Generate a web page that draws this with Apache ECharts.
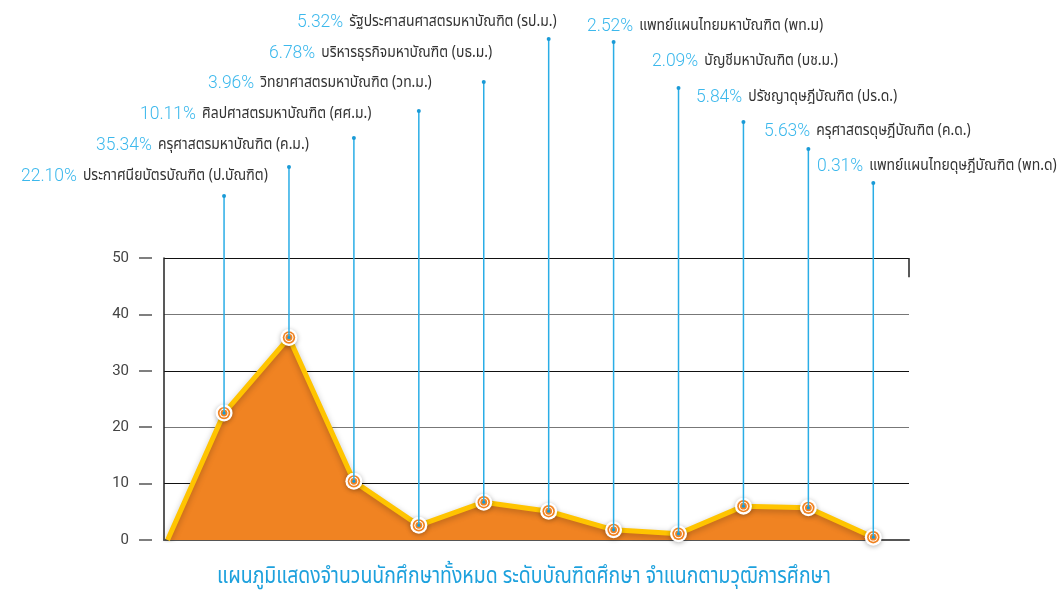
<!DOCTYPE html>
<html>
<head>
<meta charset="utf-8">
<script src="https://cdn.jsdelivr.net/npm/echarts@6/dist/echarts.min.js"></script>
<style>
  html, body { margin: 0; padding: 0; background: #fff; }
  #chart { width: 1062px; height: 590px; }
</style>
</head>
<body>
<div id="chart"></div>
<script>
// data
const categories = ['ป.บัณฑิต', 'ค.ม.', 'ศศ.ม.', 'วท.ม.', 'บธ.ม.', 'รป.ม.', 'พท.ม', 'บช.ม.', 'ปร.ด.', 'ค.ด.', 'พท.ด'];
const percentLabels = ['22.10%', '35.34%', '10.11%', '3.96%', '6.78%', '5.32%', '2.52%', '2.09%', '5.84%', '5.63%', '0.31%'];
const degreeNames = [
    'ประกาศนียบัตรบัณฑิต (ป.บัณฑิต)',
    'ครุศาสตรมหาบัณฑิต (ค.ม.)',
    'ศิลปศาสตรมหาบัณฑิต (ศศ.ม.)',
    'วิทยาศาสตรมหาบัณฑิต (วท.ม.)',
    'บริหารธุรกิจมหาบัณฑิต (บธ.ม.)',
    'รัฐประศาสนศาสตรมหาบัณฑิต (รป.ม.)',
    'แพทย์แผนไทยมหาบัณฑิต (พท.ม)',
    'บัญชีมหาบัณฑิต (บช.ม.)',
    'ปรัชญาดุษฎีบัณฑิต (ปร.ด.)',
    'ครุศาสตรดุษฎีบัณฑิต (ค.ด.)',
    'แพทย์แผนไทยดุษฎีบัณฑิต (พท.ด)'
];
const plotted = [22.5, 35.9, 10.4, 2.6, 6.7, 5.1, 1.8, 1.1, 6.0, 5.7, 0.5];
const yTicks = [0, 10, 20, 30, 40, 50];
const titleText = 'แผนภูมิแสดงจำนวนนักศึกษาทั้งหมด ระดับบัณฑิตศึกษา จำแนกตามวุฒิการศึกษา';

// label layout (pixels): top of leader line, label left x, label middle y
const leaderTop = [196, 167, 138, 111, 82, 39, 42, 88, 122, 149, 183];
const labelPos = [[21, 177], [96, 146], [140, 115], [208, 84], [269, 54], [297, 23],
                  [587, 27], [652, 62], [696, 98], [764, 132], [817, 167]];

const fontTh = "'Noto Sans Thai', 'Noto Sans', 'DejaVu Sans', sans-serif";
const pctFont = "300 17.5px Roboto, sans-serif";
const nameFont = "16px " + fontTh;

// width of the percentage part, so the name can follow it
const measureCtx = document.createElement('canvas').getContext('2d');
measureCtx.font = pctFont;
const pctWidth = percentLabels.map(t => measureCtx.measureText(t).width);

const areaData = [[0.13, 0]].concat(plotted.map((v, i) => [i + 1, v]));
const pointData = plotted.map((v, i) => [i + 1, v]);

const myChart = echarts.init(document.getElementById('chart'));
myChart.setOption({
    animation: false,
    graphic: [{
        type: 'text',
        x: 524,
        y: 578,
        scaleX: 0.845,
        style: {
            text: titleText,
            fill: '#1da1dd',
            font: "23px " + fontTh,
            textAlign: 'center',
            verticalAlign: 'middle'
        }
    }],
    grid: { left: 164, top: 258, width: 745, height: 282 },
    xAxis: {
        type: 'value',
        min: 0.075,
        max: 11.55,
        axisLine: { show: true, lineStyle: { color: '#555', width: 2 } },
        axisTick: { show: false },
        axisLabel: { show: false },
        splitLine: { show: false }
    },
    yAxis: [
        {
            type: 'value',
            min: yTicks[0],
            max: yTicks[yTicks.length - 1],
            interval: 10,
            offset: 12,
            axisLine: { show: false },
            axisTick: { show: true, length: 13, lineStyle: { color: '#555', width: 1.5 } },
            axisLabel: { margin: 23, color: '#444', fontSize: 15, fontFamily: 'Roboto, sans-serif' },
            splitLine: { show: true, lineStyle: { color: ['#555', '#111', '#777', '#111', '#777', '#111'], width: 1.2 } }
        },
        {
            type: 'value',
            min: 0,
            max: 50,
            interval: 10,
            position: 'left',
            axisLine: { show: true, lineStyle: { color: '#222', width: 1.5 } },
            axisTick: { show: false },
            axisLabel: { show: false },
            splitLine: { show: false }
        }
    ],
    series: [
        {
            type: 'line',
            data: areaData,
            symbol: 'none',
            z: 2,
            lineStyle: { color: '#ffc400', width: 5, shadowBlur: 6, shadowColor: 'rgba(0,0,0,0.25)', shadowOffsetY: 2 },
            areaStyle: { color: '#f08322', opacity: 1 },
            markLine: {
                silent: true,
                symbol: 'none',
                label: { show: false },
                lineStyle: { color: '#222', type: 'solid', width: 1.5 },
                data: [[{ coord: [11.55, 50] }, { coord: [11.55, 46.6] }]]
            }
        },
        {
            type: 'custom',
            data: pointData,
            z: 5,
            renderItem: function (params, api) {
                const i = params.dataIndex;
                const p = api.coord([api.value(0), api.value(1)]);
                const topY = leaderTop[i];
                const lb = labelPos[i];
                const orange = '#f08322';
                return {
                    type: 'group',
                    children: [
                        { type: 'circle', shape: { cx: p[0], cy: p[1], r: 8.5 }, style: { fill: '#fff', shadowBlur: 5, shadowColor: 'rgba(0,0,0,0.3)', shadowOffsetY: 1 } },
                        { type: 'circle', shape: { cx: p[0], cy: p[1], r: 6.2 }, style: { fill: orange } },
                        { type: 'circle', shape: { cx: p[0], cy: p[1], r: 4.5 }, style: { fill: '#fff' } },
                        { type: 'circle', shape: { cx: p[0], cy: p[1], r: 3.4 }, style: { fill: orange } },
                        { type: 'line', shape: { x1: p[0], y1: p[1], x2: p[0], y2: topY }, style: { stroke: '#2aade6', lineWidth: 1.5 } },
                        { type: 'circle', shape: { cx: p[0], cy: p[1], r: 1.6 }, style: { fill: '#1a9ad6' } },
                        { type: 'circle', shape: { cx: p[0], cy: topY, r: 2 }, style: { fill: '#1a9ad6' } },
                        {
                            type: 'text',
                            x: lb[0],
                            y: lb[1],
                            style: { text: percentLabels[i], fill: '#3cb8ec', font: pctFont, verticalAlign: 'middle' }
                        },
                        {
                            type: 'text',
                            x: lb[0] + pctWidth[i] + 6,
                            y: lb[1],
                            scaleX: 0.87,
                            style: { text: degreeNames[i], fill: '#333', font: nameFont, verticalAlign: 'middle' }
                        }
                    ]
                };
            }
        }
    ]
});
window.addEventListener('resize', () => {
    myChart.resize();
});
</script>
</body>
</html>
